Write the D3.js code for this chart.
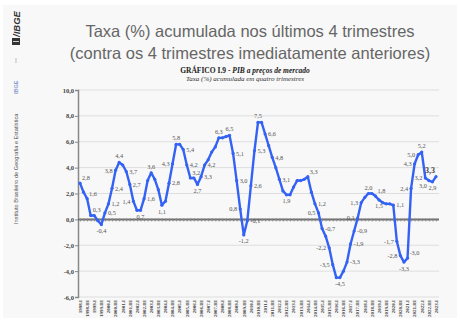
<!DOCTYPE html>
<html><head><meta charset="utf-8">
<script src="https://cdn.jsdelivr.net/npm/d3@7"></script>
<style>html,body{margin:0;padding:0;background:#fff;}svg{display:block;}</style>
</head><body>
<svg id="chart" width="460" height="326"></svg>
<script>
// ---- DATA ----
const years = d3.range(1998, 2024);
const romans = ["I", "II", "III", "IV"];
const quarters = [];
years.forEach(y => romans.forEach(r => { if (y < 2023 || r === "I") quarters.push(y + "." + r); }));

const values = [
  2.8, 2.1, 1.6, 0.3, 0.3, -0.1, -0.4, 0.5,
  1.2, 2.4, 3.8, 4.4, 4.2, 3.7, 2.7, 1.4,
  0.7, 0.7, 1.6, 3.0, 3.6, 3.1, 2.3, 1.1,
  1.4, 2.8, 4.3, 5.8, 5.8, 5.4, 4.2, 3.2,
  3.2, 2.7, 3.3, 4.2, 4.6, 5.2, 5.6, 6.3,
  6.3, 6.4, 6.5, 5.1, 3.0, 0.8, -1.2, -0.1,
  2.6, 5.3, 7.5, 7.5, 6.6, 5.7, 4.8, 4.0,
  3.1, 2.2, 1.9, 1.9, 2.5, 3.0, 3.0, 3.1,
  3.3, 2.1, 1.2, 0.5, -0.7, -1.3, -2.2, -3.5,
  -4.5, -4.5, -4.0, -3.3, -1.9, -0.9, 0.1, 1.3,
  1.7, 2.0, 2.0, 1.8, 1.5, 1.3, 1.2, 1.2,
  1.1, -1.7, -2.8, -3.3, -3.0, 2.4, 4.3, 5.0,
  5.2, 3.2, 3.0, 2.9, 3.3
];

const yTicks = [-6, -4, -2, 0, 2, 4, 6, 8, 10];

// which points carry a value label, and on which side
const labelIdx  = [0, 2, 3, 6, 7, 8, 9, 10, 11, 13, 14, 15, 17, 18, 20, 23, 25, 26, 27, 29, 30, 31, 33, 34, 35, 39, 42, 43, 44, 45, 46, 47, 48, 49, 50, 52, 54, 56, 58, 64, 66, 67, 68, 70, 71, 73, 75, 76, 77, 78, 79, 81, 83, 84, 88, 89, 90, 91, 92, 93, 94, 95, 96, 97, 98, 99];
const labelSide = ["tr","tr","tr","b","r","r","r","l","t","r","r","l","b","r","t","b","r","l","t","r","r","tr","b","r","r","t","t","r","r","l","b","r","r","r","t","r","r","r","b","tr","r","l","r","l","l","b","r","r","r","l","l","t","tr","b","r","l","l","b","tr","l","l","l","t","l","bl","b"];
const lastIdx = 100;

const titleLines = ["Taxa (%) acumulada nos últimos 4 trimestres", "(contra os 4 trimestres imediatamente anteriores)"];
const subTitleA = "GRÁFICO I.9 - ";
const subTitleB = "PIB a preços de mercado";
const subTitle2 = "Taxa (%) acumulada em quatro trimestres";
const brandName = "IBGE";
const brandFull = "Instituto Brasileiro de Geografia e Estatística";

// ---- DRAW ----
const svg = d3.select("#chart");
const fmt = v => d3.format(".1f")(v).replace(".", ",").replace("−", "-");

svg.append("rect").attr("x", 3).attr("y", 5).attr("width", 454).attr("height", 313).attr("fill", "#f8f8f8");

// left branding
const brand = svg.append("g");
brand.append("rect").attr("x", 12).attr("y", 38).attr("width", 8).attr("height", 7).attr("fill", "#333");
brand.append("line").attr("x1", 13).attr("x2", 19).attr("y1", 41.5).attr("y2", 41.5).attr("stroke", "#f8f8f8").attr("stroke-width", 0.8);
brand.append("text").attr("transform", "translate(20,37) rotate(-90)")
  .attr("font-family", "Liberation Sans, Arial, sans-serif").attr("font-weight", "bold").attr("font-style", "italic")
  .attr("font-size", 9.5).attr("fill", "#333").text("/" + brandName);
brand.append("line").attr("x1", 16).attr("x2", 16).attr("y1", 58).attr("y2", 63).attr("stroke", "#bbb").attr("stroke-width", 1);
brand.append("text").attr("transform", "translate(17.5,94) rotate(-90)")
  .attr("font-family", "Liberation Sans, Arial, sans-serif").attr("font-weight", "bold")
  .attr("font-size", 5.5).attr("fill", "#8aa0d0").text(brandName);
brand.append("text").attr("transform", "translate(17.5,224) rotate(-90)")
  .attr("font-family", "Liberation Sans, Arial, sans-serif")
  .attr("font-size", 5.6).attr("fill", "#555").text(brandFull);

// titles
svg.selectAll("text.title").data(titleLines).join("text").attr("class", "title")
  .attr("x", 250).attr("y", (d, i) => 37 + i * 22)
  .attr("text-anchor", "middle")
  .attr("font-family", "Liberation Sans, Arial, sans-serif")
  .attr("font-size", 16.5).attr("fill", "#666").text(d => d);

const st = svg.append("text").attr("x", 245).attr("y", 73).attr("text-anchor", "middle")
  .attr("font-family", "Liberation Serif, Times New Roman, serif").attr("font-size", 7.5).attr("font-weight", "bold").attr("fill", "#222");
st.append("tspan").text(subTitleA);
st.append("tspan").attr("font-style", "italic").text(subTitleB);
svg.append("text").attr("x", 245).attr("y", 81).attr("text-anchor", "middle")
  .attr("font-family", "Liberation Serif, Times New Roman, serif").attr("font-size", 7).attr("font-style", "italic").attr("fill", "#333").text(subTitle2);

// scales
const x = d3.scalePoint().domain(quarters).range([80, 436]);
const y = d3.scaleLinear().domain([-6, 10]).range([297, 90]);
const plotL = 78, plotR = 439;

// gridlines
svg.append("g").selectAll("line").data(yTicks.filter(t => t !== 0)).join("line")
  .attr("x1", plotL).attr("x2", plotR).attr("y1", d => y(d)).attr("y2", d => y(d))
  .attr("stroke", "#dedede").attr("stroke-width", 1);

// y axis
const yAxis = d3.axisLeft(y).tickValues(yTicks).tickSize(3).tickFormat(fmt);
const gy = svg.append("g").attr("transform", `translate(${plotL},0)`).call(yAxis);
gy.select(".domain").attr("stroke", "#888").attr("stroke-width", 1.5);
gy.selectAll(".tick line").attr("stroke", "#888");
gy.selectAll(".tick text").attr("font-family", "Liberation Serif, Times New Roman, serif")
  .attr("font-weight", "bold").attr("font-size", 6.5).attr("fill", "#444").attr("x", -4);

// x axis at zero
const xAxis = d3.axisBottom(x).tickSize(3).tickFormat("");
const gx = svg.append("g").attr("transform", `translate(0,${y(0)})`).call(xAxis);
gx.select(".domain").attr("d", `M${plotL},0H${plotR}`).attr("stroke", "#707070").attr("stroke-width", 2);
gx.selectAll(".tick line").attr("stroke", "#888").attr("y1", -1).attr("y2", 2);

// x tick labels (every second quarter), at bottom
svg.append("g").selectAll("text").data(quarters.filter((d, i) => i % 2 === 0)).join("text")
  .attr("transform", d => `translate(${x(d) + 1.8},300) rotate(-90)`)
  .attr("text-anchor", "end")
  .attr("font-family", "Liberation Serif, Times New Roman, serif")
  .attr("font-weight", "bold").attr("font-size", 5).attr("fill", "#444").text(d => d);

// line
const pts = quarters.map((q, i) => ({ q, v: values[i], i }));
svg.append("path").datum(pts)
  .attr("d", d3.line().x(d => x(d.q)).y(d => y(d.v)))
  .attr("fill", "none").attr("stroke", "#3362f5").attr("stroke-width", 2.4).attr("stroke-linejoin", "round");
svg.append("g").selectAll("circle").data(pts).join("circle")
  .attr("cx", d => x(d.q)).attr("cy", d => y(d.v)).attr("r", 1.6).attr("fill", "#3362f5");

// value labels
const off = {
  r: [3, 2.3, "start"], l: [-3, 2.3, "end"], t: [0, -4, "middle"], b: [0, 8.5, "middle"],
  tr: [2, -3, "start"], tl: [-2, -3, "end"], br: [2, 7.5, "start"], bl: [-2, 7.5, "end"]
};
svg.append("g").selectAll("text").data(labelIdx.map((idx, k) => ({ p: pts[idx], s: labelSide[k] }))).join("text")
  .attr("x", d => x(d.p.q) + off[d.s][0]).attr("y", d => y(d.p.v) + off[d.s][1])
  .attr("text-anchor", d => off[d.s][2])
  .attr("font-family", "Liberation Serif, Times New Roman, serif")
  .attr("font-size", 6.3).attr("fill", "#555").text(d => fmt(d.p.v));

svg.append("text").attr("x", x(quarters[lastIdx]) - 1).attr("y", y(values[lastIdx]) - 4)
  .attr("text-anchor", "end")
  .attr("font-family", "Liberation Serif, Times New Roman, serif")
  .attr("font-weight", "bold").attr("font-size", 8).attr("fill", "#444").text(fmt(values[lastIdx]));
</script>
</body></html>
